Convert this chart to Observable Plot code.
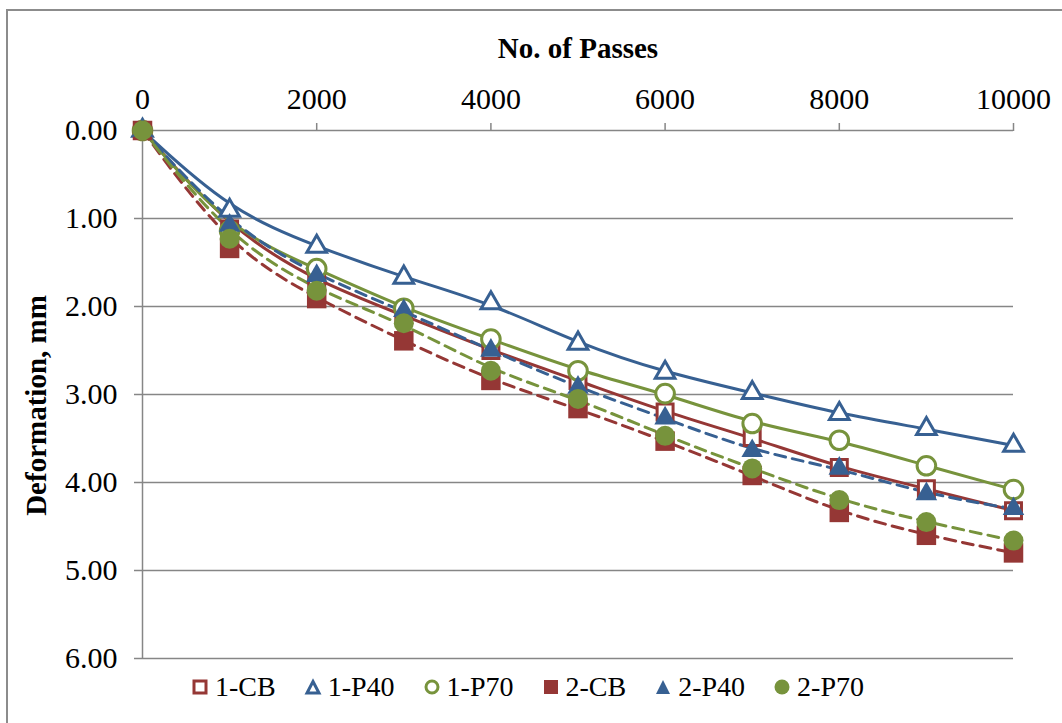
<!DOCTYPE html>
<html><head><meta charset="utf-8">
<script src="https://cdn.jsdelivr.net/npm/d3@7"></script>
<script src="https://cdn.jsdelivr.net/npm/@observablehq/plot@0.6"></script>
<style>
body{margin:0;background:#fff;font-family:"Liberation Serif","Times New Roman",serif;overflow:hidden;}
#frame{position:absolute;left:6px;top:9px;width:1070px;height:730px;border:2px solid #8c8c8c;pointer-events:none;}
#chart{position:absolute;left:0;top:0;}
#legend{position:absolute;left:191px;top:671px;display:flex;align-items:center;gap:28px;font-size:28px;color:#000;}
.item{display:flex;align-items:center;gap:6px;}
.item svg{display:block;}
</style></head>
<body>
<div id="chart"></div>
<div id="legend"></div>
<div id="frame"></div>
<script>
const passes = [0,1000,2000,3000,4000,5000,6000,7000,8000,9000,10000];
const cb1  = [0,1.12,1.72,2.10,2.50,2.84,3.20,3.49,3.83,4.07,4.32];
const p40_1 = [0,0.91,1.32,1.67,1.96,2.42,2.75,2.98,3.22,3.39,3.58];
const p70_1 = [0,1.14,1.57,2.02,2.37,2.73,2.99,3.33,3.52,3.81,4.08];
const cb2  = [0,1.34,1.91,2.39,2.84,3.16,3.53,3.92,4.34,4.60,4.80];
const p40_2 = [0,1.08,1.65,2.05,2.50,2.92,3.27,3.64,3.84,4.13,4.30];
const p70_2 = [0,1.23,1.82,2.19,2.73,3.05,3.47,3.84,4.20,4.45,4.66];
const seriesNames = ["1-CB","1-P40","1-P70","2-CB","2-P40","2-P70"];
const xTicks = [0,2000,4000,6000,8000,10000];
const yTicks = [0,1,2,3,4,5,6];

const RED="#953735", BLUE="#376092", GREEN="#77933C", GRID="#868686";
const valuesList = [cb1,p40_1,p70_1,cb2,p40_2,p70_2];
const styles = [
  {color:RED,  symbol:"square",   filled:false, dash:null,  r:9},
  {color:BLUE, symbol:"triangle", filled:false, dash:null,  r:7.3},
  {color:GREEN,symbol:"circle",   filled:false, dash:null,  r:9.3},
  {color:RED,  symbol:"square",   filled:true,  dash:"11,7", r:11},
  {color:BLUE, symbol:"triangle", filled:true,  dash:"11,7", r:8},
  {color:GREEN,symbol:"circle",   filled:true,  dash:"11,7", r:10}
];
const tables = valuesList.map((vals,i)=>passes.map((p,j)=>({series:seriesNames[i],x:p,y:vals[j]})));

const lineMarks = tables.map((t,i)=>Plot.line(t,{x:"x",y:"y",curve:"basis",stroke:styles[i].color,strokeWidth:3,
  strokeDasharray:styles[i].dash||undefined}));
const dotMarks = tables.map((t,i)=>Plot.dot(t,{x:"x",y:"y",symbol:()=>styles[i].symbol,r:styles[i].r,
  fill:styles[i].filled?styles[i].color:"white",stroke:styles[i].color,strokeWidth:styles[i].filled?0:3}));

const chart = Plot.plot({
  width:1062, height:690,
  marginLeft:142, marginRight:49, marginTop:130, marginBottom:32,
  style:{fontFamily:"'Liberation Serif','Times New Roman',serif",fontSize:"30px",color:"#000",background:"transparent"},
  x:{domain:[0,10000]},
  y:{domain:[0,6],reverse:true},
  symbol:{type:"identity"},
  marks:[
    Plot.gridY(yTicks,{stroke:GRID,strokeOpacity:1,strokeWidth:1.5}),
    Plot.ruleX([0],{stroke:GRID,strokeWidth:1.5}),
    Plot.axisX(xTicks,{anchor:"top",tickSize:8,tickPadding:14,stroke:GRID,strokeWidth:1.5,label:null,fontSize:30,fill:"#000",tickFormat:d3.format("d")}),
    Plot.axisY(yTicks,{anchor:"left",tickSize:8,tickPadding:17,stroke:GRID,strokeWidth:1.5,tickFormat:d3.format(".2f"),label:null,fontSize:30,fill:"#000"}),
    Plot.text(["No. of Passes"],{frameAnchor:"top",dy:-82,fontWeight:"bold",fontSize:29,fill:"#000",lineAnchor:"middle",textAnchor:"middle"}),
    Plot.text(["Deformation, mm"],{frameAnchor:"left",dx:-106,dy:11,rotate:-90,fontWeight:"bold",fontSize:29,fill:"#000",lineAnchor:"middle",textAnchor:"middle"}),
    ...lineMarks,
    ...dotMarks
  ]
});
document.getElementById("chart").appendChild(chart);

// legend
const leg = document.getElementById("legend");
const symPaths = {
  square:(f,c)=>f?`<rect x="2" y="2" width="14" height="14" fill="${c}"/>`:`<rect x="3" y="3" width="12" height="12" fill="white" stroke="${c}" stroke-width="3"/>`,
  triangle:(f,c)=>f?`<path d="M9,2 L16,16 L2,16Z" fill="${c}"/>`:`<path d="M9,3.5 L15,15 L3,15Z" fill="white" stroke="${c}" stroke-width="3" stroke-linejoin="miter"/>`,
  circle:(f,c)=>f?`<circle cx="9" cy="9" r="7.5" fill="${c}"/>`:`<circle cx="9" cy="9" r="6" fill="white" stroke="${c}" stroke-width="3"/>`
};
seriesNames.forEach((n,i)=>{
  const s=styles[i];
  const d=document.createElement("div");d.className="item";
  d.innerHTML=`<svg width="18" height="18">${symPaths[s.symbol](s.filled,s.color)}</svg><span>${n}</span>`;
  leg.appendChild(d);
});
</script>
</body></html>
